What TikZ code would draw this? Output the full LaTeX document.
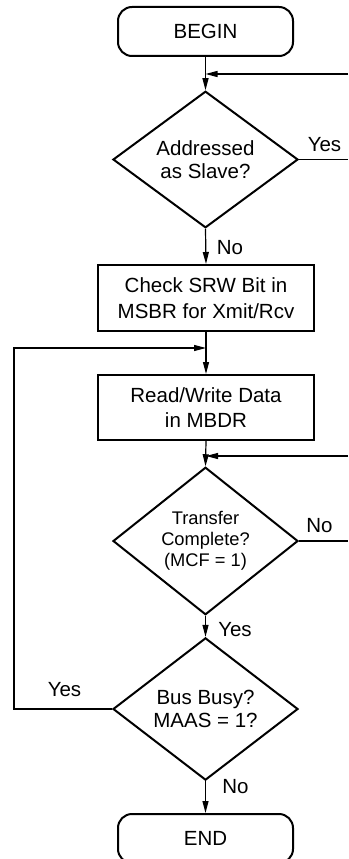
\documentclass[tikz,border=0pt]{standalone}
\usepackage{fontspec}
\setmainfont{Liberation Sans}
\usetikzlibrary{shapes.geometric,arrows.meta}
\tikzset{
  boxline/.style={draw, line width=2pt},
  term/.style={boxline, rounded corners=14pt, minimum width=175pt, minimum height=49pt, inner sep=0pt, font=\fontsize{20.5}{24}\selectfont},
  proc/.style={boxline, minimum width=216pt, minimum height=66pt, inner sep=0pt, align=center, font=\fontsize{20.5}{25.5}\selectfont},
  dec/.style={boxline, diamond, minimum width=185pt, minimum height=126pt, inner sep=0pt, align=center, font=\fontsize{20.5}{23.5}\selectfont},
  conn/.style={line width=1.2pt},
  arr/.style={conn, -{Triangle[length=12pt,width=6pt]}},
  lbl/.style={inner sep=0pt, font=\fontsize{20.5}{24}\selectfont}
}
\begin{document}
\begin{tikzpicture}[x=1pt,y=-1pt]
\useasboundingbox (0,0) rectangle (348,859);
\node[term] (begin) at (205.5,31.5) {BEGIN};
\node[dec, minimum height=125pt] (d1) at (205.5,159.5) {Addressed\\as Slave?};
\node[proc] (b1) at (206,298) {Check SRW Bit in\\MSBR for Xmit/Rcv};
\node[proc, minimum height=65pt] (b2) at (206,407.5) {Read/Write Data\\in MBDR};
\node[dec, minimum height=128pt, font=\fontsize{18.3}{21}\selectfont] (d2) at (205.5,541) {Transfer\\Complete?\\(MCF = 1)};
\node[dec] (d3) at (205.5,709) {Bus Busy?\\MAAS = 1?};
\node[term] (end) at (205.5,838.5) {END};

\node[lbl] (y1) at (324.5,145) {Yes};
\node[lbl] (n1) at (230,248) {No};
\node[lbl] (n2) at (319.5,526) {No};
\node[lbl] (y2) at (235,630) {Yes};
\node[lbl] (y3) at (64.5,690) {Yes};
\node[lbl] (n3) at (235.5,787) {No};

\coordinate (r1) at (348,74);
\coordinate (r2) at (348,159.5);
\coordinate (r3) at (348,456);
\coordinate (r4) at (348,541);
\coordinate (l1) at (14,348);

\draw[arr] (begin.south) -- (d1.north);
\draw[arr] (r1) -- (r1 -| begin.south);
\draw[conn] (d1.east) -- (r2);
\draw[arr] (d1.south) -- (b1.north);
\draw[arr] (b1.south) -- (b2.north);
\draw[arr] (d3.west) -- (d3.west -| l1) -- (l1) -- (l1 -| b2.north);
\draw[arr] (b2.south) -- (d2.north);
\draw[arr] (r3) -- (r3 -| b2.south);
\draw[conn] (d2.east) -- (r4);
\draw[arr] (d2.south) -- (d3.north);
\draw[arr] (d3.south) -- (end.north);
\end{tikzpicture}
\end{document}
